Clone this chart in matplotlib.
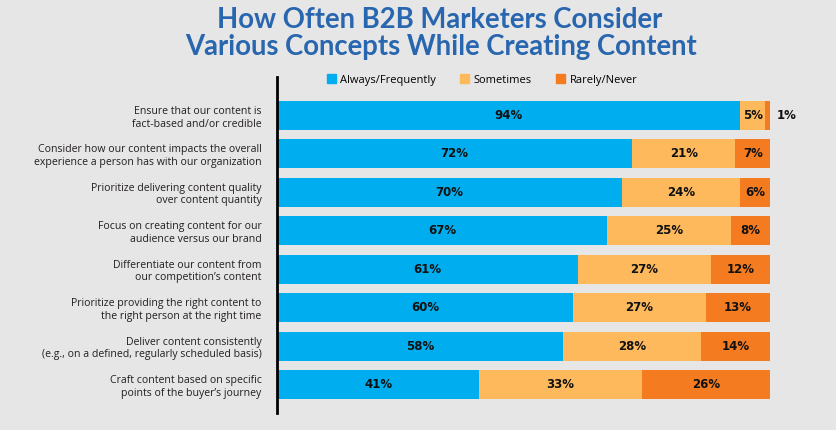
import matplotlib
matplotlib.use("Agg")
import matplotlib.pyplot as plt
from matplotlib.patches import Rectangle

categories = [
    "Ensure that our content is\nfact-based and/or credible",
    "Consider how our content impacts the overall\nexperience a person has with our organization",
    "Prioritize delivering content quality\nover content quantity",
    "Focus on creating content for our\naudience versus our brand",
    "Differentiate our content from\nour competition\u2019s content",
    "Prioritize providing the right content to\nthe right person at the right time",
    "Deliver content consistently\n(e.g., on a defined, regularly scheduled basis)",
    "Craft content based on specific\npoints of the buyer\u2019s journey",
]
always = [94, 72, 70, 67, 61, 60, 58, 41]
sometimes = [5, 21, 24, 25, 27, 27, 28, 33]
rarely = [1, 7, 6, 8, 12, 13, 14, 26]
series_names = ["Always/Frequently", "Sometimes", "Rarely/Never"]
colors = ["#00AEEF", "#FDB95C", "#F47B20"]
bg = "#E6E6E6"

fig = plt.figure(figsize=(8.37, 4.30), dpi=100, facecolor=bg)
ax = fig.add_axes([277/837, 17/430, (770-277)/837, 336/430], facecolor=bg)

ypos = list(range(len(categories)))
left = [0]*len(categories)
for vals, col in zip([always, sometimes, rarely], colors):
    ax.barh(ypos, vals, left=left, height=0.755, color=col, edgecolor="none")
    for i, (v, l) in enumerate(zip(vals, left)):
        if v >= 3:
            ax.text(l + v/2, i, f"{v}%", ha="center", va="center",
                    fontsize=8.5, fontweight="bold", color="#111111")
        else:
            ax.text(l + v + 1.3, i, f"{v}%", ha="left", va="center",
                    fontsize=8.5, fontweight="bold", color="#111111", clip_on=False)
    left = [a+b for a, b in zip(left, vals)]

ax.set_xlim(0, 100)
ax.set_ylim(7.74, -1.0)
ax.set_yticks(ypos)
ax.set_yticklabels(categories, fontsize=7.6, color="#231F20", family="Open Sans", linespacing=1.2)
ax.tick_params(axis="y", length=0, pad=11)
ax.set_xticks([])
for s in ["top", "right", "bottom"]:
    ax.spines[s].set_visible(False)
ax.spines["left"].set_linewidth(2)
ax.spines["left"].set_color("black")

# legend
handles = [Rectangle((0, 0), 1, 1, color=c) for c in colors]
fig.legend(handles, series_names, loc="center", bbox_to_anchor=(482/837, 1-80/430),
           ncol=3, frameon=False, handlelength=0.8, handleheight=0.8,
           handletextpad=0.4, columnspacing=2.2, prop={"family": "Open Sans", "size": 8})

fig.text(440/837, 1-20/430, "How Often B2B Marketers Consider", ha="center", va="center",
         fontsize=19.8, fontweight="bold", color="#2866AF", family="Lato")
fig.text(441/837, 1-47/430, "Various Concepts While Creating Content", ha="center", va="center",
         fontsize=19.8, fontweight="bold", color="#2866AF", family="Lato")

fig.savefig("out.png", dpi=100, facecolor=bg)
